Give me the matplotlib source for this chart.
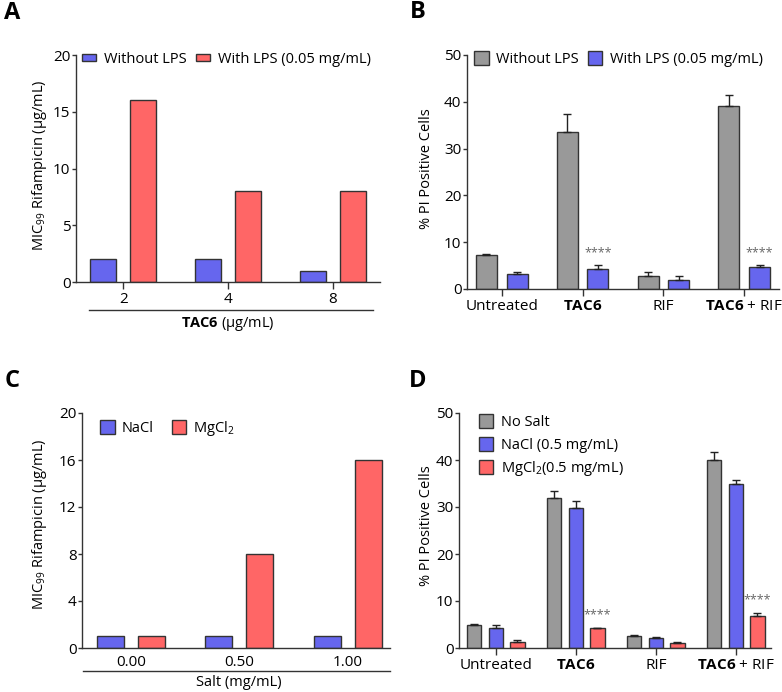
import numpy as np
import matplotlib
matplotlib.use('Agg')
import matplotlib.pyplot as plt

plt.rcParams['font.family'] = ['Open Sans', 'DejaVu Sans']
plt.rcParams['mathtext.fontset'] = 'custom'
plt.rcParams['mathtext.rm'] = 'Open Sans'
plt.rcParams['mathtext.it'] = 'Open Sans:italic'
plt.rcParams['mathtext.bf'] = 'Open Sans:bold'

# data
# panel A
a_conc = ['2', '4', '8']
a_without = [2, 2, 1]
a_with = [16, 8, 8]
# panel B
b_groups = ['Untreated', r'$\mathbf{TAC6}$', 'RIF', r'$\mathbf{TAC6}$ + RIF']
b_without = [7.2, 33.6, 2.8, 39.0]
b_without_err = [0.3, 3.8, 0.8, 2.4]
b_with = [3.3, 4.2, 2.0, 4.7]
b_with_err = [0.3, 0.9, 0.7, 0.5]
b_sig = ['', '****', '', '****']
# panel C
c_salt = ['0.00', '0.50', '1.00']
c_nacl = [1, 1, 1]
c_mgcl = [1, 8, 16]
# panel D
d_groups = b_groups
d_nosalt = [4.9, 32.0, 2.6, 40.1]
d_nosalt_err = [0.3, 1.3, 0.2, 1.7]
d_nacl = [4.3, 29.8, 2.05, 34.8]
d_nacl_err = [0.5, 1.5, 0.25, 0.9]
d_mgcl = [1.35, 4.2, 1.1, 6.8]
d_mgcl_err = [0.25, 0.1, 0.2, 0.6]
d_sig = ['', '****', '', '****']

GRAY = '#999999'
BLUE = '#6666ee'
RED = '#ff6666'
EDGE = '#333333'
AXC = '#333333'

W, H = 782, 692
fig = plt.figure(figsize=(W / 100, H / 100), dpi=100)


def px_axes(l, t, r, b):
    return fig.add_axes([l / W, 1 - b / H, (r - l) / W, (b - t) / H])


def style(ax):
    for s in ['top', 'right']:
        ax.spines[s].set_visible(False)
    for s in ['left', 'bottom']:
        ax.spines[s].set_color(AXC)
        ax.spines[s].set_linewidth(1.0)
    ax.tick_params(axis='y', direction='out', length=3, width=1, color=AXC,
                   labelsize=11, pad=1)
    ax.tick_params(axis='x', direction='out', length=5, width=1, color=AXC,
                   labelsize=11, pad=2)


def bars(ax, x, vals, w, color, err=None):
    b = ax.bar(x, vals, width=w, color=color, edgecolor=EDGE, linewidth=1,
               zorder=2)
    if err is not None:
        ax.errorbar(x, vals, yerr=[np.zeros(len(vals)), err], fmt='none',
                    ecolor='#222222', elinewidth=1, capsize=2.6, capthick=1,
                    zorder=3)
    return b


# ---- A
ax = px_axes(76, 55, 380, 282)
x = np.arange(len(a_conc))
h1 = bars(ax, x - 0.19, a_without, 0.25, BLUE)
h2 = bars(ax, x + 0.19, a_with, 0.25, RED)
ax.set_xlim(-0.45, 2.45)
ax.set_ylim(0, 20)
ax.set_yticks([0, 5, 10, 15, 20])
ax.set_xticks(x)
ax.set_xticklabels(a_conc)
style(ax)
ax.legend([h1, h2], ['Without LPS', 'With LPS (0.05 mg/mL)'], loc='upper left',
          bbox_to_anchor=(0.0, 1.04), ncol=2, frameon=False, fontsize=10.5,
          handlelength=1.0, handleheight=0.45, handletextpad=0.5,
          columnspacing=0.65, borderaxespad=0)
ax.plot([(89 - 76) / 304, (373 - 76) / 304], [-28 / 227] * 2,
        transform=ax.transAxes, color=AXC, lw=1, clip_on=False)
fig.text(228 / W, 1 - 324 / H, r'$\mathbf{TAC6}$ (μg/mL)', ha='center',
         va='center', fontsize=10.5)
fig.text(40 / W, 1 - 165 / H, r'MIC$_{99}$ Rifampicin (μg/mL)', rotation=90,
         ha='center', va='center', fontsize=10.5)

# ---- B
ax = px_axes(467, 55, 779, 289)
x = np.arange(len(b_groups))
h1 = bars(ax, x - 0.19, b_without, 0.26, GRAY, b_without_err)
h2 = bars(ax, x + 0.19, b_with, 0.26, BLUE, b_with_err)
for xi, v, e, s in zip(x, b_with, b_with_err, b_sig):
    if s:
        ax.text(xi + 0.19, v + e + 2.6, s, ha='center', va='center',
                fontsize=9, color='#666666')
ax.set_xlim(-0.43, 3.43)
ax.set_ylim(0, 50)
ax.set_yticks(range(0, 51, 10))
ax.set_xticks(x)
ax.set_xticklabels(b_groups)
style(ax)
ax.legend([h1, h2], ['Without LPS', 'With LPS (0.05 mg/mL)'], loc='upper left',
          bbox_to_anchor=(0.005, 1.04), ncol=2, frameon=False, fontsize=10.5,
          handlelength=1.0, handleheight=1.1, handletextpad=0.5,
          columnspacing=0.6, borderaxespad=0)
fig.text(426 / W, 1 - 169 / H, '% PI Positive Cells', rotation=90,
         ha='center', va='center', fontsize=10.5)

# ---- C
ax = px_axes(82, 413, 390, 648)
x = np.arange(len(c_salt))
h1 = bars(ax, x - 0.19, c_nacl, 0.25, BLUE)
h2 = bars(ax, x + 0.19, c_mgcl, 0.25, RED)
ax.set_xlim(-0.45, 2.39)
ax.set_ylim(0, 20)
ax.set_yticks([0, 4, 8, 12, 16, 20])
ax.set_xticks(x)
ax.set_xticklabels(c_salt)
style(ax)
ax.tick_params(axis='x', length=0, pad=5)
ax.legend([h1, h2], ['NaCl', r'MgCl$_2$'], loc='upper left',
          bbox_to_anchor=(0.04, 1.0), ncol=2, frameon=False, fontsize=10.5,
          handlelength=1.0, handleheight=1.1, handletextpad=0.5,
          columnspacing=1.2, borderaxespad=0)
ax.plot([(83 - 82) / 308, 1.0], [-23 / 235] * 2,
        transform=ax.transAxes, color=AXC, lw=1, clip_on=False)
fig.text(239 / W, 1 - 683 / H, 'Salt (mg/mL)', ha='center', va='center',
         fontsize=10.5)
fig.text(40 / W, 1 - 524 / H, r'MIC$_{99}$ Rifampicin (μg/mL)', rotation=90,
         ha='center', va='center', fontsize=10.5)

# ---- D
ax = px_axes(459, 413, 771, 648)
x = np.arange(len(d_groups))
h1 = bars(ax, x - 0.27, d_nosalt, 0.18, GRAY, d_nosalt_err)
h2 = bars(ax, x, d_nacl, 0.18, BLUE, d_nacl_err)
h3 = bars(ax, x + 0.27, d_mgcl, 0.18, RED, d_mgcl_err)
for xi, v, e, s in zip(x, d_mgcl, d_mgcl_err, d_sig):
    if s:
        ax.text(xi + 0.27, v + e + 2.8, s, ha='center', va='center',
                fontsize=9, color='#666666')
ax.set_xlim(-0.46, 3.44)
ax.set_ylim(0, 50)
ax.set_yticks(range(0, 51, 10))
ax.set_xticks(x)
ax.set_xticklabels(d_groups)
style(ax)
ax.legend([h1, h2, h3], ['No Salt', 'NaCl (0.5 mg/mL)', r'MgCl$_2$(0.5 mg/mL)'],
          loc='upper left', bbox_to_anchor=(0.045, 1.02), ncol=1,
          frameon=False, fontsize=10.5, handlelength=1.0, handleheight=1.1,
          handletextpad=0.5, labelspacing=0.45, borderaxespad=0)
fig.text(426 / W, 1 - 526 / H, '% PI Positive Cells', rotation=90,
         ha='center', va='center', fontsize=10.5)

# panel letters
for lab, px, py in [('A', 12, 13), ('B', 418, 12), ('C', 12, 381), ('D', 418, 381)]:
    fig.text(px / W, 1 - py / H, lab, ha='center', va='center', fontsize=17,
             fontweight='bold')

fig.savefig('out.png', dpi=100)
